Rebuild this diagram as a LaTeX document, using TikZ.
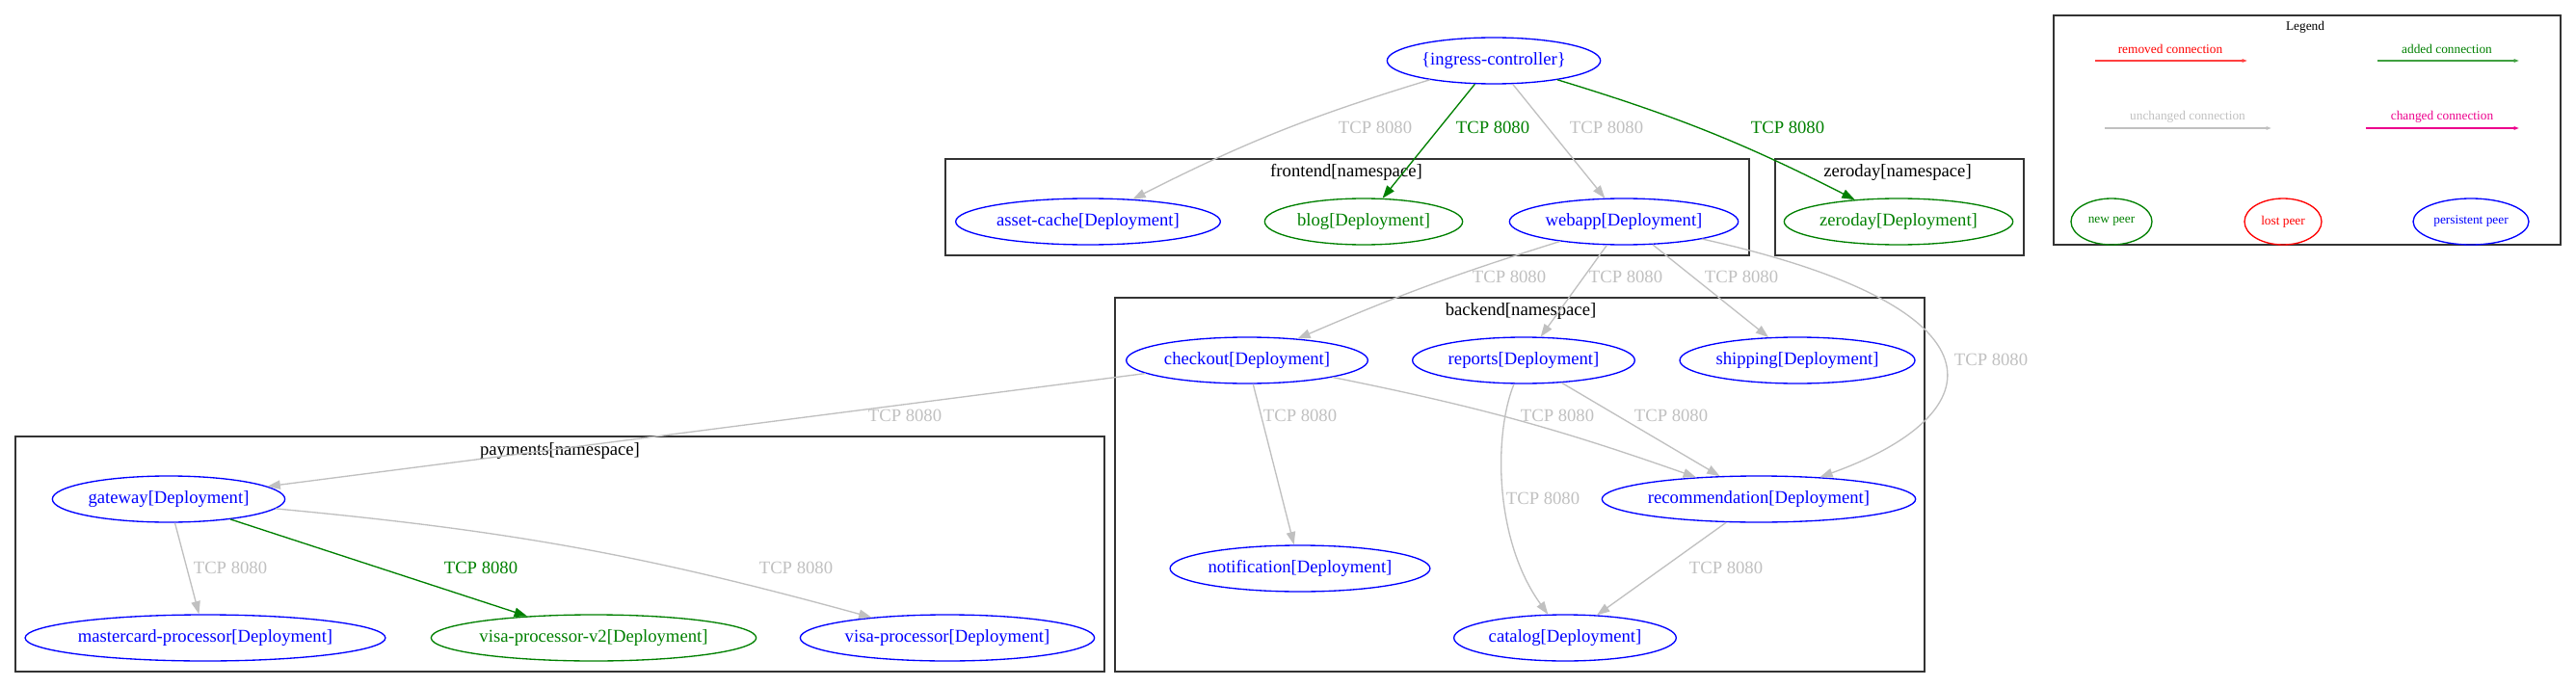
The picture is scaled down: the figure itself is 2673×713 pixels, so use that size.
\documentclass[tikz,border=0pt]{standalone}
\usepackage{fontspec}
\setmainfont{Liberation Serif}
\usetikzlibrary{shapes.geometric,arrows.meta}
\definecolor{addgreen}{RGB}{0,128,0}
\definecolor{silver}{RGB}{192,192,192}
\tikzset{
  peer/.style={ellipse,draw,line width=1pt,inner sep=0pt,minimum height=36pt,font=\fontsize{14}{16}\selectfont},
  persistent/.style={peer,blue,text=blue},
  newpod/.style={peer,addgreen,text=addgreen},
  ns/.style={draw=black!80,line width=1.2pt},
  nslabel/.style={font=\fontsize{14}{16}\selectfont,inner sep=0pt},
  oldlbl/.style={font=\fontsize{14}{16}\selectfont,inner sep=0pt,text=silver},
  newlbl/.style={font=\fontsize{14}{16}\selectfont,inner sep=0pt,text=addgreen},
  unchanged/.style={silver,line width=1pt,-{Triangle[length=10pt,width=7pt]}},
  added/.style={addgreen,line width=1pt,-{Triangle[length=10pt,width=7pt]}},
  legtext/.style={font=\fontsize{10}{12}\selectfont,inner sep=0pt},
  legline/.style={line width=1pt,-{Triangle[length=4pt,width=2.5pt]}},
  legpeer/.style={ellipse,draw,line width=1pt,inner sep=0pt,minimum height=36pt,font=\fontsize{10}{12}\selectfont},
}
\begin{document}
\begin{tikzpicture}[x=0.75pt,y=-0.75pt]
    \useasboundingbox (0,0) rectangle (2673,713);
    % namespaces
    \draw[ns] (981,165) rectangle (1815,265);
    \node[nslabel] (frontendns) at (1397,179) {frontend[namespace]};
    \draw[ns] (1842,165) rectangle (2100,265);
    \node[nslabel] (zerodayns) at (1969,179) {zeroday[namespace]};
    \draw[ns] (1157,309) rectangle (1997,697);
    \node[nslabel] (backendns) at (1578,323) {backend[namespace]};
    \draw[ns] (16,453) rectangle (1146,697);
    \node[nslabel] (paymentsns) at (581,468) {payments[namespace]};
    % peers
    \node[persistent,minimum width=166pt] (ingress) at (1550,63) {\{ingress-controller\}};
    \node[persistent,minimum width=206pt] (assetcache) at (1129,230) {asset-cache[Deployment]};
    \node[newpod,minimum width=154pt] (blog) at (1415,230) {blog[Deployment]};
    \node[persistent,minimum width=178pt] (webapp) at (1685,230) {webapp[Deployment]};
    \node[newpod,minimum width=178pt] (zeroday) at (1970,230) {zeroday[Deployment]};
    \node[persistent,minimum width=188pt] (checkout) at (1294,374) {checkout[Deployment]};
    \node[persistent,minimum width=173pt] (reports) at (1581,374) {reports[Deployment]};
    \node[persistent,minimum width=183pt] (shipping) at (1865,374) {shipping[Deployment]};
    \node[persistent,minimum width=242pt] (recommendation) at (1825,518) {recommendation[Deployment]};
    \node[persistent,minimum width=202pt] (notification) at (1349,590) {notification[Deployment]};
    \node[persistent,minimum width=173pt] (catalog) at (1624,662) {catalog[Deployment]};
    \node[persistent,minimum width=181pt] (gateway) at (175,518) {gateway[Deployment]};
    \node[persistent,minimum width=280pt] (mastercard) at (213,662) {mastercard-processor[Deployment]};
    \node[newpod,minimum width=253pt] (visatwo) at (616,662) {visa-processor-v2[Deployment]};
    \node[persistent,minimum width=229pt] (visa) at (983,662) {visa-processor[Deployment]};
    % connections
    \draw[unchanged] (ingress) to[bend right=5] (assetcache);
    \node[oldlbl] (l1) at (1427,132) {TCP 8080};
    \draw[added] (ingress) -- (blog);
    \node[newlbl] (l2) at (1549,132) {TCP 8080};
    \draw[unchanged] (ingress) -- (webapp);
    \node[oldlbl] (l3) at (1667,132) {TCP 8080};
    \draw[added] (ingress) to[bend left=5] (zeroday);
    \node[newlbl] (l4) at (1855,132) {TCP 8080};
    \draw[unchanged] (webapp) to[bend right=3] (checkout);
    \node[oldlbl] (l5) at (1566,287) {TCP 8080};
    \draw[unchanged] (webapp) -- (reports);
    \node[oldlbl] (l6) at (1687,287) {TCP 8080};
    \draw[unchanged] (webapp) -- (shipping);
    \node[oldlbl] (l7) at (1807,287) {TCP 8080};
    \draw[unchanged] (webapp) .. controls (2090,320) and (2070,430) .. (recommendation);
    \node[oldlbl] (l8) at (2066,373) {TCP 8080};
    \draw[unchanged] (checkout) -- (notification);
    \node[oldlbl] (l9) at (1349,431) {TCP 8080};
    \draw[unchanged] (checkout) to[bend left=4] (recommendation);
    \node[oldlbl] (l10) at (1616,431) {TCP 8080};
    \draw[unchanged] (reports) -- (recommendation);
    \node[oldlbl] (l11) at (1734,431) {TCP 8080};
    \draw[unchanged] (reports) .. controls (1550,450) and (1550,560) .. (catalog);
    \node[oldlbl] (l12) at (1601,517) {TCP 8080};
    \draw[unchanged] (recommendation) -- (catalog);
    \node[oldlbl] (l13) at (1791,589) {TCP 8080};
    \draw[unchanged] (checkout) -- (gateway);
    \node[oldlbl] (l14) at (939,431) {TCP 8080};
    \draw[unchanged] (gateway) -- (mastercard);
    \node[oldlbl] (l15) at (239,589) {TCP 8080};
    \draw[added] (gateway) -- (visatwo);
    \node[newlbl] (l16) at (499,589) {TCP 8080};
    \draw[unchanged] (gateway) to[bend left=5] (visa);
    \node[oldlbl] (l17) at (826,589) {TCP 8080};
    % legend
    \draw[ns] (2131,16) rectangle (2657,254);
    \node[legtext] (legend) at (2392,28) {Legend};
    \coordinate (rmA) at (2174,63);
    \coordinate (rmB) at (2332,63);
    \draw[legline,red!75] (rmA) -- (rmB);
    \node[legtext,text=red] (rmtext) at (2252,51) {removed connection};
    \coordinate (addA) at (2467,63);
    \coordinate (addB) at (2614,63);
    \draw[legline,addgreen!75] (addA) -- (addB);
    \node[legtext,text=addgreen] (addtext) at (2539,51) {added connection};
    \coordinate (unA) at (2184,133);
    \coordinate (unB) at (2357,133);
    \draw[legline,silver] (unA) -- (unB);
    \node[legtext,text=silver] (untext) at (2270,121) {unchanged connection};
    \coordinate (chA) at (2455,133);
    \coordinate (chB) at (2614,133);
    \draw[legline,magenta] (chA) -- (chB);
    \node[legtext,text=magenta] (chtext) at (2534,121) {changed connection};
    \node[legpeer,addgreen,text=addgreen,minimum width=63pt] (newpeer) at (2191,230) {new peer};
    \node[legpeer,red,text=red,minimum width=60pt] (lostpeer) at (2369,230) {lost peer};
    \node[legpeer,blue,text=blue,minimum width=90pt] (persistentpeer) at (2564,230) {persistent peer};
\end{tikzpicture}
\end{document}
